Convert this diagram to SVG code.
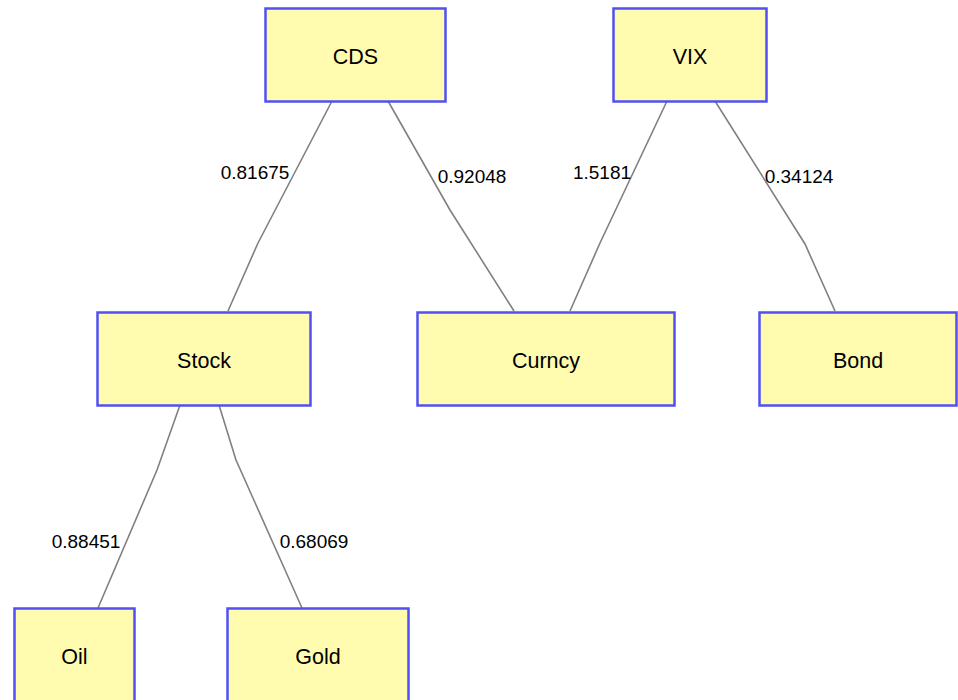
<svg xmlns="http://www.w3.org/2000/svg" width="958" height="700" viewBox="0 0 958 700">
<style>
.node rect{fill:#fffcb0;stroke:#5050f5;stroke-width:2.5}
.node text{font-family:"Liberation Sans",Arial,sans-serif;font-size:21.5px;fill:#000;text-anchor:middle}
.edges polyline{fill:none;stroke:#808080;stroke-width:1.6}
.edges text{font-family:"Liberation Sans",Arial,sans-serif;font-size:19px;fill:#000;text-anchor:middle}
</style>
<rect width="958" height="700" fill="#fff"/>
<g class="edges" id="edges">
<polyline points="332,101 258,243 228,311"/>
<polyline points="388,101 450,210 514,311"/>
<polyline points="667,101 600,243 570,311"/>
<polyline points="715,101 805,244 835,311"/>
<polyline points="180,405 157,470 98,608"/>
<polyline points="219,405 236,460 302,608"/>
<text x="255" y="179">0.81675</text>
<text x="472" y="183">0.92048</text>
<text x="602" y="179">1.5181</text>
<text x="799" y="183">0.34124</text>
<text x="86" y="548">0.88451</text>
<text x="314" y="548">0.68069</text>
</g>
<g class="node" id="CDS"><rect x="265.5" y="8.5" width="180" height="93"/><text x="355.5" y="63.5">CDS</text></g>
<g class="node" id="VIX"><rect x="613.5" y="8.5" width="153" height="93"/><text x="690" y="63.5">VIX</text></g>
<g class="node" id="Stock"><rect x="97.5" y="312.5" width="213" height="93"/><text x="204" y="367.5">Stock</text></g>
<g class="node" id="Curncy"><rect x="417.5" y="312.5" width="257" height="93"/><text x="546" y="367.5">Curncy</text></g>
<g class="node" id="Bond"><rect x="759.5" y="312.5" width="197" height="93"/><text x="858" y="367.5">Bond</text></g>
<g class="node" id="Oil"><rect x="14.5" y="608.5" width="120" height="93"/><text x="74.5" y="663.5">Oil</text></g>
<g class="node" id="Gold"><rect x="227.5" y="608.5" width="181" height="93"/><text x="318" y="663.5">Gold</text></g>
</svg>
